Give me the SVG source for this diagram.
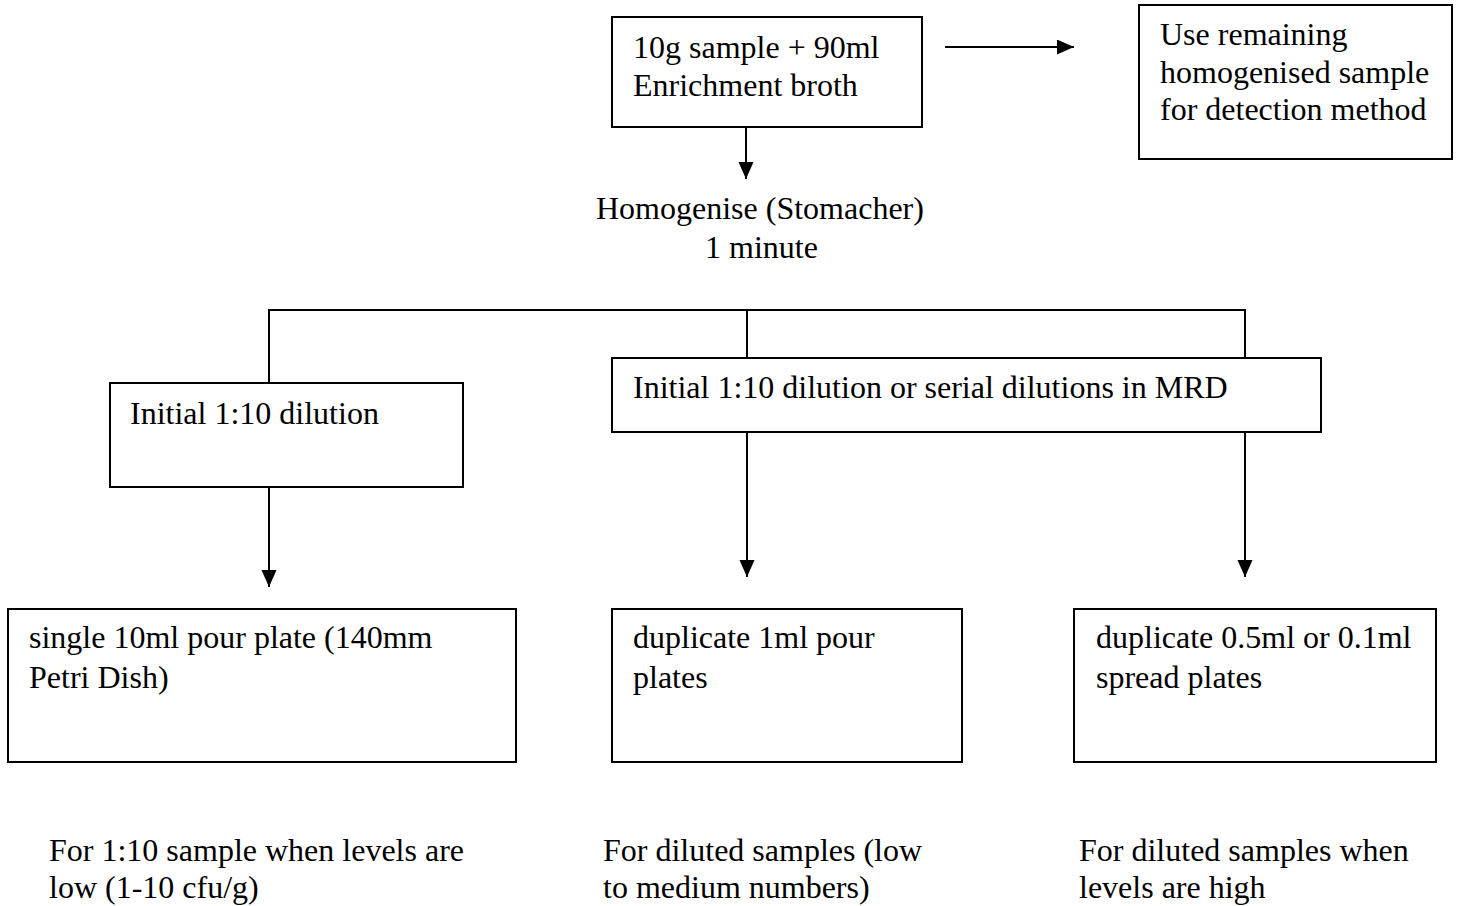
<svg xmlns="http://www.w3.org/2000/svg" width="1459" height="906" viewBox="0 0 1459 906">
<style>
.box{fill:#fff;stroke:#000;stroke-width:2}
.ln{fill:none;stroke:#000;stroke-width:2}
text{font-family:"Liberation Serif","Times New Roman",serif;font-size:32px;fill:#000}
</style>
<defs>
<marker id="ah" markerUnits="userSpaceOnUse" markerWidth="17" markerHeight="16" refX="17" refY="7.5" orient="auto">
<path d="M0,0 L17,7.5 L0,15 Z" fill="#000"/>
</marker>
</defs>
<rect width="1459" height="906" fill="#fff"/>
<g id="connectors">
<line class="ln" x1="945" y1="47" x2="1074" y2="47" marker-end="url(#ah)"/>
<line class="ln" x1="746" y1="127" x2="746" y2="179" marker-end="url(#ah)"/>
<polyline class="ln" points="269,383 269,310 1245,310 1245,358"/>
<line class="ln" x1="747" y1="310" x2="747" y2="358"/>
<line class="ln" x1="269" y1="487" x2="269" y2="587" marker-end="url(#ah)"/>
<line class="ln" x1="747" y1="432" x2="747" y2="577" marker-end="url(#ah)"/>
<line class="ln" x1="1245" y1="432" x2="1245" y2="577" marker-end="url(#ah)"/>
</g>
<g id="sample">
<rect class="box" x="612" y="17" width="310" height="110"/>
<text x="633" y="58">10g sample + 90ml</text>
<text x="633" y="96">Enrichment broth</text>
</g>
<g id="detection">
<rect class="box" x="1139" y="5" width="313" height="154"/>
<text x="1160" y="45">Use remaining</text>
<text x="1160" y="83">homogenised sample</text>
<text x="1160" y="120">for detection method</text>
</g>
<g id="homogenise">
<text x="596" y="219">Homogenise (Stomacher)</text>
<text x="705" y="258">1 minute</text>
</g>
<g id="initial-dilution">
<rect class="box" x="110" y="383" width="353" height="104"/>
<text x="130" y="424">Initial 1:10 dilution</text>
</g>
<g id="serial-dilution">
<rect class="box" x="612" y="358" width="709" height="74"/>
<text x="633" y="398">Initial 1:10 dilution or serial dilutions in MRD</text>
</g>
<g id="pour-plate-single">
<rect class="box" x="8" y="609" width="508" height="153"/>
<text x="29" y="648">single 10ml pour plate (140mm</text>
<text x="29" y="688">Petri Dish)</text>
</g>
<g id="pour-plate-duplicate">
<rect class="box" x="612" y="609" width="350" height="153"/>
<text x="633" y="648">duplicate 1ml pour</text>
<text x="633" y="688">plates</text>
</g>
<g id="spread-plates">
<rect class="box" x="1074" y="609" width="362" height="153"/>
<text x="1096" y="648">duplicate 0.5ml or 0.1ml</text>
<text x="1096" y="688">spread plates</text>
</g>
<g id="note-low">
<text x="49" y="861">For 1:10 sample when levels are</text>
<text x="49" y="898">low (1-10 cfu/g)</text>
</g>
<g id="note-medium">
<text x="603" y="861">For diluted samples (low</text>
<text x="603" y="898">to medium numbers)</text>
</g>
<g id="note-high">
<text x="1079" y="861">For diluted samples when</text>
<text x="1079" y="898">levels are high</text>
</g>
</svg>
